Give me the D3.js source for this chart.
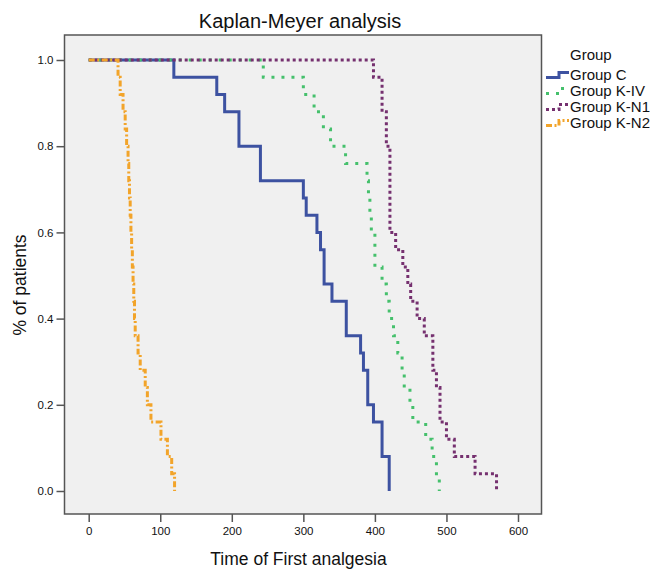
<!DOCTYPE html>
<html>
<head>
<meta charset="utf-8">
<script src="https://cdn.jsdelivr.net/npm/d3@7"></script>
<style>
  body { margin: 0; background: #fff; }
  svg text { font-family: "Liberation Sans", Arial, Helvetica, sans-serif; fill: #111; }
</style>
</head>
<body>
<div id="chart"></div>
<script>
// Kaplan-Meyer curves (time of drop, survival after drop)
var groupNames = ["Group C", "Group K-IV", "Group K-N1", "Group K-N2"];

var groupCTimes = [0, 119, 179, 190, 210, 240, 300, 304, 319, 324, 329, 340, 360, 380, 384, 390, 398, 410, 420];
var groupCSurv  = [1.0, 0.96, 0.92, 0.88, 0.80, 0.72, 0.68, 0.64, 0.60, 0.56, 0.48, 0.44, 0.36, 0.32, 0.28, 0.20, 0.16, 0.08, 0.0];

var groupKIVTimes = [0, 244, 300, 315, 328, 338, 359, 389, 391, 393, 395, 400, 410, 416, 420, 426, 432, 438, 441, 449, 453, 471, 480, 486, 490];
var groupKIVSurv  = [1.0, 0.96, 0.92, 0.88, 0.84, 0.80, 0.76, 0.72, 0.68, 0.64, 0.60, 0.52, 0.48, 0.44, 0.40, 0.36, 0.32, 0.28, 0.24, 0.20, 0.16, 0.12, 0.08, 0.04, 0.0];

var groupKN1Times = [0, 398, 410, 416, 421, 429, 439, 446, 450, 459, 469, 481, 486, 491, 500, 511, 540, 570];
var groupKN1Surv  = [1.0, 0.96, 0.88, 0.80, 0.60, 0.56, 0.52, 0.48, 0.44, 0.40, 0.36, 0.28, 0.24, 0.16, 0.12, 0.08, 0.04, 0.0];

var groupKN2Times = [0, 41, 44, 48, 51, 53, 55, 56, 57, 58, 59, 60, 61, 62, 63, 64, 65, 69, 72, 79, 82, 87, 101, 110, 116, 120];
var groupKN2Surv  = [1.0, 0.96, 0.92, 0.88, 0.84, 0.80, 0.76, 0.72, 0.68, 0.64, 0.60, 0.56, 0.52, 0.48, 0.44, 0.40, 0.36, 0.32, 0.28, 0.24, 0.20, 0.16, 0.12, 0.08, 0.04, 0.0];

var xTicks = [0, 100, 200, 300, 400, 500, 600];
var yTicks = [0, 0.2, 0.4, 0.6, 0.8, 1.0];

var W = 657, H = 569;
var frame = { left: 64.5, right: 541.5, top: 35, bottom: 514 };

var styles = [
  { color: "#3d52a1", dash: null },
  { color: "#45c06c", dash: "3,7" },
  { color: "#75306f", dash: "3,3" },
  { color: "#f2a42a", dash: "6,2.5,2,2.5" }
];

var series = [
  d3.zip(groupCTimes, groupCSurv),
  d3.zip(groupKIVTimes, groupKIVSurv),
  d3.zip(groupKN1Times, groupKN1Surv),
  d3.zip(groupKN2Times, groupKN2Surv)
];

var svg = d3.select("#chart").append("svg")
    .attr("width", W)
    .attr("height", H);

var x = d3.scaleLinear().domain([0, 600]).range([88.7, 518]);
var y = d3.scaleLinear().domain([0, 1]).range([491, 60]);

// plot background + frame
svg.append("rect")
    .attr("x", frame.left)
    .attr("y", frame.top)
    .attr("width", frame.right - frame.left)
    .attr("height", frame.bottom - frame.top)
    .attr("fill", "#f0f0f0")
    .attr("stroke", "#555")
    .attr("stroke-width", 1.5);

// axes
var xAxis = d3.axisBottom(x).tickValues(xTicks).tickSize(8).tickPadding(5);
var yAxis = d3.axisLeft(y).tickValues(yTicks).tickSize(8).tickPadding(3).tickFormat(d3.format(".1f"));

var gx = svg.append("g")
    .attr("transform", "translate(0," + frame.bottom + ")")
    .call(xAxis);
var gy = svg.append("g")
    .attr("transform", "translate(" + frame.left + ",0)")
    .call(yAxis);

[gx, gy].forEach(function(g) {
  g.select(".domain").remove();
  g.selectAll(".tick line").attr("stroke", "#555").attr("stroke-width", 1.5);
  g.selectAll(".tick text")
    .attr("font-size", "11.5px")
    .attr("font-family", "'Liberation Sans', Arial, sans-serif")
    .attr("fill", "#111");
});

// curves
var line = d3.line()
    .x(function(d) { return x(d[0]); })
    .y(function(d) { return y(d[1]); })
    .curve(d3.curveStepAfter);

svg.append("g").selectAll("path")
  .data(series)
  .enter()
  .append("path")
    .attr("d", line)
    .attr("fill", "none")
    .attr("stroke", function(d, i) { return styles[i].color; })
    .attr("stroke-width", 3)
    .attr("stroke-dasharray", function(d, i) { return styles[i].dash; });

// titles
svg.append("text")
    .attr("x", 300)
    .attr("y", 28)
    .attr("text-anchor", "middle")
    .attr("font-size", "20px")
    .text("Kaplan-Meyer analysis");

svg.append("text")
    .attr("x", 298.5)
    .attr("y", 565)
    .attr("text-anchor", "middle")
    .attr("font-size", "17.5px")
    .text("Time of First analgesia");

svg.append("text")
    .attr("transform", "translate(26,285) rotate(-90)")
    .attr("text-anchor", "middle")
    .attr("font-size", "17.5px")
    .text("% of patients");

// legend
var legend = svg.append("g");
legend.append("text")
    .attr("x", 570)
    .attr("y", 60)
    .attr("font-size", "15px")
    .text("Group");

var rows = legend.selectAll("g.row")
  .data(groupNames)
  .enter()
  .append("g")
    .attr("class", "row")
    .attr("transform", function(d, i) { return "translate(0," + (79.5 + i * 16) + ")"; });

rows.append("path")
    .attr("d", "M546,-2H559V-7H569")
    .attr("fill", "none")
    .attr("stroke", function(d, i) { return styles[i].color; })
    .attr("stroke-width", 3)
    .attr("stroke-dasharray", function(d, i) { return styles[i].dash; });

rows.append("text")
    .attr("x", 570)
    .attr("y", 0)
    .attr("font-size", "15px")
    .text(function(d) { return d; });
</script>
</body>
</html>
